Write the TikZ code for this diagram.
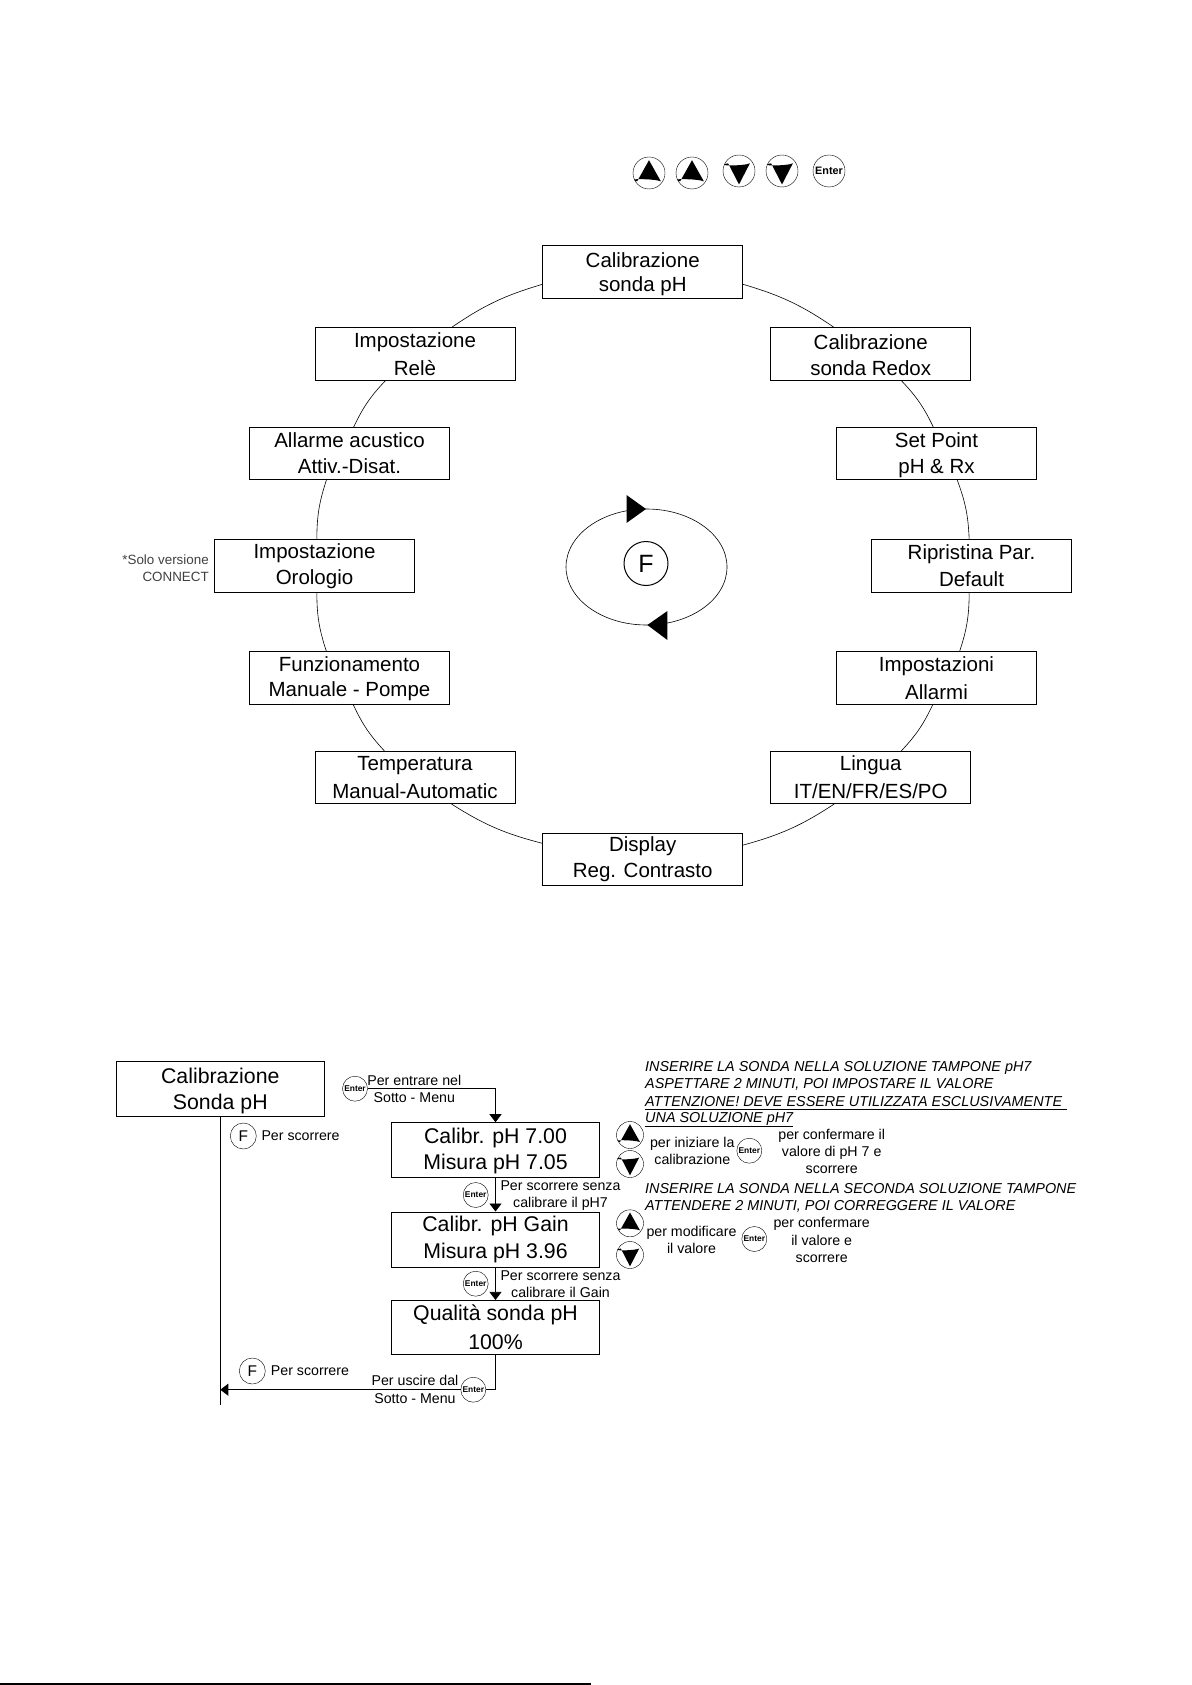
\documentclass[tikz,border=0pt]{standalone}
\usepackage{fontspec}
\setmainfont{Liberation Sans}
\usetikzlibrary{arrows.meta,shapes.geometric}
\tikzset{
  menubox/.style={draw,rectangle,minimum width=200pt,minimum height=52.5pt,inner sep=0pt,line width=0.6pt,align=center,font=\fontsize{20.5}{25.8}\selectfont},
  subbox/.style={draw,rectangle,minimum width=208.5pt,minimum height=55pt,inner sep=0pt,line width=0.6pt,align=center,font=\fontsize{21.3}{26.7}\selectfont},
  note/.style={inner sep=0pt,align=center,font=\fontsize{14.2}{17.2}\selectfont},
  warn/.style={inner sep=0pt,anchor=west,font=\fontsize{14.4}{17}\selectfont\itshape},
  fbtn/.style={draw,circle,minimum size=26pt,inner sep=0pt,font=\fontsize{15.5}{15}\selectfont},
  enterbtn/.style={draw,circle,fill=white,minimum size=25pt,inner sep=0pt,font=\fontsize{8.4}{9}\selectfont\bfseries},
  upbtn/.style={draw,circle,minimum size=#1,inner sep=0pt,path picture={
    \fill (path picture bounding box.center) ++(0,0.4*#1) -- ++(0.37*#1,-0.66*#1)
      .. controls +(-0.2*#1,0.09*#1) and +(-0.54*#1,0.09*#1) .. ++(-0.74*#1,0) -- cycle;}},
  downbtn/.style={draw,circle,minimum size=#1,inner sep=0pt,path picture={
    \fill (path picture bounding box.center) ++(0,-0.42*#1) -- ++(0.34*#1,0.66*#1)
      .. controls +(-0.2*#1,-0.09*#1) and +(-0.48*#1,-0.09*#1) .. ++(-0.68*#1,0) -- cycle;}},
  ring/.style={bend left=9,line width=0.6pt},
  flow/.style={-{Triangle[length=8pt,width=12pt]},line width=0.7pt}
}
\begin{document}
\begin{tikzpicture}[x=1pt,y=-1pt]
\useasboundingbox (0,0) rectangle (1191,1685);
% buttons on top
\node[upbtn=32pt] (upa) at (649,173) {};
\node[upbtn=32pt] (upb) at (692,173) {};
\node[downbtn=32pt] (downa) at (739,171) {};
\node[downbtn=32pt] (downb) at (782,171) {};
\node[enterbtn,minimum size=32pt,font=\fontsize{10.8}{11}\selectfont\bfseries] (entertop) at (829,171) {Enter};
% main menu
\node[menubox] (calph) at (642.7,272) {\rule{0pt}{19pt}Calibrazione\\[-2pt]sonda pH};
\node[menubox] (redox) at (870.7,354) {\rule{0pt}{16.5pt}Calibrazione\\sonda Redox};
\node[menubox] (setp) at (936.5,453.5) {\rule{0pt}{18pt}Set Point\\pH \& Rx};
\node[menubox] (ripr) at (971.5,566) {Ripristina Par.\\[1pt]Default};
\node[menubox] (alarm) at (936.5,678) {Impostazioni\\[2pt]Allarmi};
\node[menubox] (lang) at (870.7,777.5) {Lingua\\[2pt]IT/EN/FR/ES/PO};
\node[menubox] (disp) at (642.7,859.2) {Display\\Reg. Contrasto};
\node[menubox] (temp) at (415,777.5) {Temperatura\\[2pt]Manual-Automatic};
\node[menubox] (manu) at (349.5,678) {\rule{0pt}{16.5pt}Funzionamento\\[-1pt]Manuale - Pompe};
\node[menubox] (clock) at (314.5,566) {Impostazione\\Orologio};
\node[menubox] (acus) at (349.5,453.5) {Allarme acustico\\Attiv.-Disat.};
\node[menubox] (rele) at (415,354) {Impostazione\\[2pt]Relè};
\node[inner sep=0pt,anchor=east,align=right,text=black!75,font=\fontsize{13.4}{16.5}\selectfont] (solo) at (209,568) {*Solo versione\\CONNECT};
% ring
\draw[ring] (calph.-7) to (redox.144);
\draw[ring] (redox.-41) to (setp.97);
\draw[ring] (setp.-52) to (ripr.95);
\draw[ring] (ripr.-95) to (alarm.49);
\draw[ring] (alarm.-98) to (lang.41);
\draw[ring] (lang.-144) to (disp.8.5);
\draw[ring] (disp.171.5) to (temp.-36);
\draw[ring] (temp.139) to (manu.-82);
\draw[ring] (manu.131) to (clock.-85);
\draw[ring] (clock.85) to (acus.-131);
\draw[ring] (acus.81) to (rele.-138);
\draw[ring] (rele.36) to (calph.187);
% loop in the middle
\node[draw,ellipse,minimum width=161pt,minimum height=116pt,line width=0.6pt] (loop) at (646.5,567) {};
\node[draw,circle,minimum size=44pt,inner sep=0pt,line width=1pt,font=\fontsize{25}{25}\selectfont] (fmain) at (646,563.5) {F};
\fill (626.5,495) -- (646,509) -- (626.5,523) -- cycle;
\fill (667.4,611) -- (647.4,625) -- (667.4,640) -- cycle;
% sub menu
\node[subbox] (cals) at (220.3,1089) {\rule{0pt}{19.5pt}Calibrazione\\Sonda pH};
\node[subbox] (cal7) at (495.5,1150) {\rule{0pt}{17.5pt}Calibr. pH 7.00\\Misura pH 7.05};
\node[subbox] (calg) at (495.5,1239.3) {Calibr. pH Gain\\Misura pH 3.96};
\node[subbox,minimum height=54.5pt] (qual) at (495.5,1327.5) {Qualità sonda pH\\[2pt]100\%};
\node[enterbtn] (enta) at (355,1088.7) {Enter};
\node[enterbtn] (entb) at (475.7,1195) {Enter};
\node[enterbtn] (entc) at (475.7,1283.7) {Enter};
\node[enterbtn] (entd) at (473.3,1389.7) {Enter};
\node[fbtn] (fa) at (243.3,1136) {F};
\node[fbtn] (fb) at (252.3,1371) {F};
\coordinate (mainend) at (220.3,1405);
\coordinate (mainhit) at (220.3,1389.7);
\draw[line width=0.7pt] (cals.south) -- (mainend);
\draw[flow] (enta.east) -| (cal7.north);
\draw[flow] (cal7.south) -- (calg.north);
\draw[flow] (calg.south) -- (qual.north);
\draw[line width=0.7pt] (qual.south) |- (entd.east);
\draw[flow] (entd.west) -- (mainhit);
\node[note] (ta) at (414.3,1088.7) {Per entrare nel\\Sotto - Menu};
\node[note,anchor=west] (tb) at (261.3,1136) {Per scorrere};
\node[note,anchor=west] (tc) at (270.7,1371) {Per scorrere};
\node[note] (td) at (415,1389.5) {Per uscire dal\\Sotto - Menu};
\node[note] (te) at (560.5,1195.4) {Per scorrere senza\\calibrare il pH7};
\node[note] (tf) at (560.5,1284) {Per scorrere senza\\calibrare il Gain};
% notes on the right
\node[warn] (wa) at (645,1067.5) {INSERIRE LA SONDA NELLA SOLUZIONE TAMPONE pH7};
\node[warn] (wb) at (645,1084) {ASPETTARE 2 MINUTI, POI IMPOSTARE IL VALORE};
\node[warn] (wc) at (645,1101.5) {ATTENZIONE! DEVE ESSERE UTILIZZATA ESCLUSIVAMENTE};
\node[warn] (wd) at (645,1119.3) {UNA SOLUZIONE pH7};
\draw[line width=0.8pt] (645,1109) -- (1067,1109);
\draw[line width=0.8pt] (645,1126) -- (793,1126);
\node[warn] (we) at (645,1188.7) {INSERIRE LA SONDA NELLA SECONDA SOLUZIONE TAMPONE};
\node[warn] (wf) at (645,1206.5) {ATTENDERE 2 MINUTI, POI CORREGGERE IL VALORE};
\node[upbtn=27pt] (upc) at (630,1135) {};
\node[downbtn=27pt] (downc) at (630,1164) {};
\node[upbtn=27pt] (upd) at (630,1223.3) {};
\node[downbtn=27pt] (downd) at (630,1255) {};
\node[note] (tg) at (692.3,1151.3) {per iniziare la\\calibrazione};
\node[enterbtn] (ente) at (749.3,1150.7) {Enter};
\node[note] (th) at (831.7,1151.3) {per confermare il\\valore di pH 7 e\\scorrere};
\node[note] (ti) at (691.5,1239.6) {per modificare\\il valore};
\node[enterbtn] (entf) at (754.3,1239) {Enter};
\node[note] (tj) at (821.7,1240) {per confermare\\il valore e\\scorrere};
% page foot
\draw[line width=2pt] (0,1684) -- (591,1684);
\end{tikzpicture}
\end{document}
